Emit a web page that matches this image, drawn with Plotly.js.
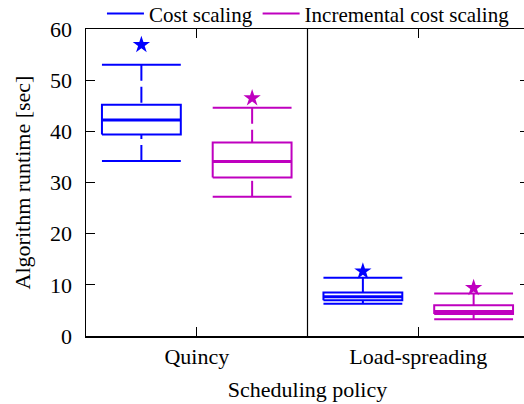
<!DOCTYPE html>
<html>
<head>
<meta charset="utf-8">
<script src="https://cdn.plot.ly/plotly-3.0.1.min.js"></script>
<style>
html,body{margin:0;padding:0;overflow:hidden;background:#fff;}
#chart{width:536px;height:404px;}
</style>
</head>
<body>
<div id="chart"></div>
<script>
// ---- data ----
var categories = ['Quincy', 'Load-spreading'];
var seriesNames = ['Cost scaling', 'Incremental cost scaling'];
var seriesColors = ['#0000ff', '#bf00bf'];

var costLowerWhisker = [34.2, 6.3];
var costQ1 = [39.4, 7.0];
var costMedian = [42.2, 7.65];
var costQ3 = [45.2, 8.5];
var costUpperWhisker = [53.0, 11.4];
var costOutlier = [56.9, 12.65];

var incLowerWhisker = [27.2, 3.25];
var incQ1 = [31.0, 4.3];
var incMedian = [34.1, 4.8];
var incQ3 = [37.8, 6.0];
var incUpperWhisker = [44.6, 8.3];
var incOutlier = [46.5, 9.4];

var yTickVals = [0, 10, 20, 30, 40, 50, 60];

// ---- build box-plot marks from the arrays ----
var series = [
  {lo: costLowerWhisker, q1: costQ1, med: costMedian, q3: costQ3, hi: costUpperWhisker, out: costOutlier},
  {lo: incLowerWhisker, q1: incQ1, med: incMedian, q3: incQ3, hi: incUpperWhisker, out: incOutlier}
];
var groupOffset = [-0.25, 0.25];
var halfW = 0.178;
var legendIds = ['legend', 'legend2'];

var traces = [];
series.forEach(function (s, si) {
  var col = seriesColors[si];
  var bx = [], by = [], mx = [], my = [], cx = [], cy = [], wx = [], wy = [], ox = [], oy = [];
  categories.forEach(function (c, ci) {
    var xc = ci + groupOffset[si];
    var l = xc - halfW, r = xc + halfW;
    bx.push(l, r, r, l, l, null);
    by.push(s.q1[ci], s.q1[ci], s.q3[ci], s.q3[ci], s.q1[ci], null);
    mx.push(l, r, null);
    my.push(s.med[ci], s.med[ci], null);
    cx.push(l, r, null, l, r, null);
    cy.push(s.hi[ci], s.hi[ci], null, s.lo[ci], s.lo[ci], null);
    wx.push(xc, xc, null, xc, xc, null);
    wy.push(s.hi[ci], s.q3[ci], null, s.lo[ci], s.q1[ci], null);
    ox.push(xc);
    oy.push(s.out[ci]);
  });
  var lg = legendIds[si];
  traces.push({x: wx, y: wy, mode: 'lines', type: 'scatter', showlegend: false, legend: lg,
    line: {color: col, width: 2, dash: '16px,6px'}, legendgroup: 'g' + si});
  traces.push({x: cx, y: cy, mode: 'lines', type: 'scatter', name: seriesNames[si], showlegend: true, legend: lg,
    line: {color: col, width: 2}, legendgroup: 'g' + si});
  traces.push({x: bx, y: by, mode: 'lines', type: 'scatter', showlegend: false, legend: lg,
    line: {color: col, width: 2}, legendgroup: 'g' + si});
  traces.push({x: mx, y: my, mode: 'lines', type: 'scatter', showlegend: false, legend: lg,
    line: {color: col, width: 3}, legendgroup: 'g' + si});
  traces.push({x: ox, y: oy, mode: 'markers', type: 'scatter', showlegend: false, legend: lg,
    marker: {symbol: 'star', size: 13, color: col, line: {width: 0}}, legendgroup: 'g' + si});
});

var font = 'Liberation Serif';
function legendBox(xpos) {
  return {orientation: 'h', x: xpos, xanchor: 'left', y: 1.049, yanchor: 'middle',
    font: {family: font, size: 21, color: '#000'}, bgcolor: 'rgba(0,0,0,0)',
    itemwidth: 37, tracegroupgap: 0};
}
var layout = {
  width: 536, height: 404,
  margin: {l: 86, r: 7, t: 29, b: 68, autoexpand: false},
  paper_bgcolor: '#fff', plot_bgcolor: '#fff',
  font: {family: font, size: 22, color: '#000'},
  showlegend: true,
  legend: legendBox(0.036),
  legend2: legendBox(0.3874),
  xaxis: {
    range: [-0.5, 1.5], tickmode: 'array', tickvals: categories.map(function (c, i) { return i; }),
    ticktext: categories, ticks: 'inside', ticklen: 9, tickwidth: 1.2, tickcolor: '#000',
    showline: true, linecolor: '#000', linewidth: 1.5, mirror: 'ticks', showgrid: false, zeroline: false,
    tickfont: {family: font, size: 22, color: '#000'},
    title: {text: 'Scheduling policy', font: {family: font, size: 22, color: '#000'}, standoff: 13}
  },
  yaxis: {
    range: [0, 60], tickmode: 'array', tickvals: yTickVals, ticks: 'inside', ticklen: 9, tickwidth: 1.2,
    tickcolor: '#000', showline: true, linecolor: '#000', linewidth: 1.5, mirror: 'ticks',
    showgrid: false, zeroline: false, ticklabelstandoff: 8,
    tickfont: {family: font, size: 22, color: '#000'},
    title: {text: 'Algorithm runtime [sec]', font: {family: font, size: 22, color: '#000'}, standoff: 13}
  },
  shapes: [{type: 'line', xref: 'x', yref: 'paper', x0: 0.5, x1: 0.5, y0: 0, y1: 1,
    line: {color: '#000', width: 1.2}}]
};

Plotly.newPlot('chart', traces, layout, {displayModeBar: false, staticPlot: true});
</script>
</body>
</html>
